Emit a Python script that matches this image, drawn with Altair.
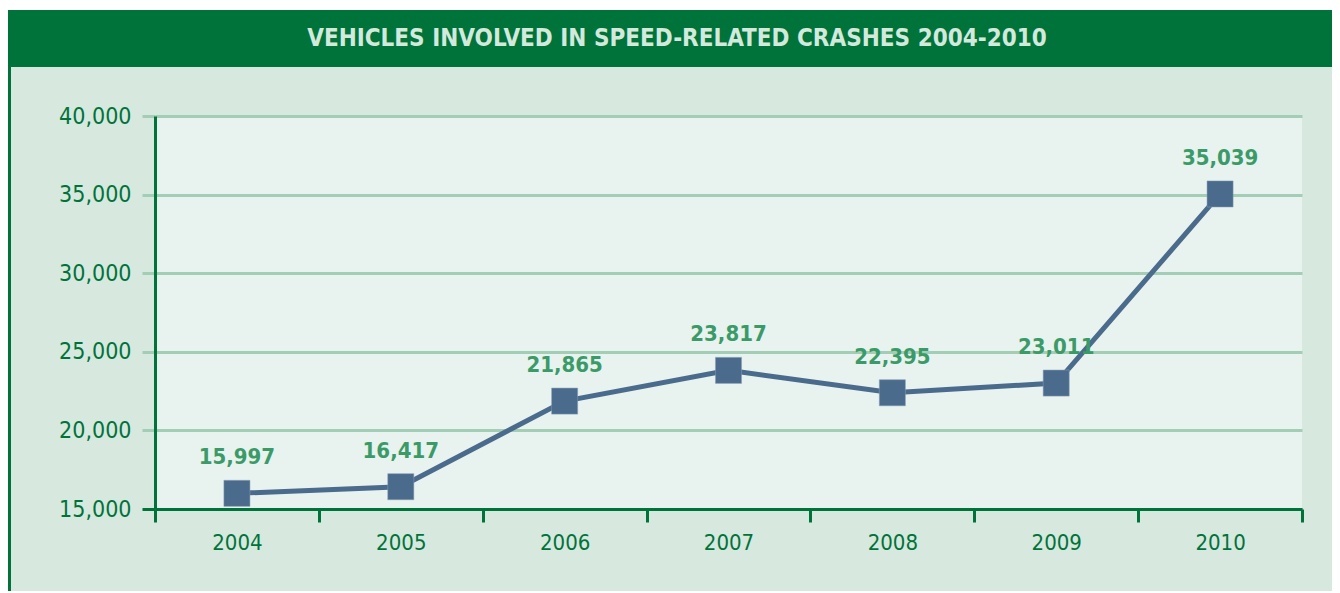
import altair as alt
import pandas as pd

years = ["2004", "2005", "2006", "2007", "2008", "2009", "2010"]
vehicles = [15997, 16417, 21865, 23817, 22395, 23011, 35039]
y_ticks = [15000, 20000, 25000, 30000, 35000, 40000]
title_text = "VEHICLES INVOLVED IN SPEED-RELATED CRASHES 2004-2010"

df = pd.DataFrame({"year": years, "vehicles": vehicles})

DARK = "#00733a"
LIGHT_BG = "#d7e8df"
PLOT_BG = "#e8f2ee"
GRID = "#a3cdb5"
LINE = "#4a6b8c"
LABEL = "#3a9a68"
FONT = "DejaVu Sans Condensed, Liberation Sans Narrow, sans-serif"

W, H = 1147, 393
PAD = {"left": 147, "top": 108, "right": 30, "bottom": 82}

x_enc = alt.X(
    "year:O",
    sort=years,
    scale=alt.Scale(paddingInner=0, paddingOuter=0),
    axis=alt.Axis(
        title=None, labelAngle=0, tickBand="extent", domainColor=DARK,
        domainWidth=3, tickColor=DARK, tickWidth=3, tickSize=13,
        labelColor=DARK, labelFont=FONT, labelFontSize=22, labelPadding=10,
        grid=False,
    ),
)
y_enc = alt.Y(
    "vehicles:Q",
    scale=alt.Scale(domain=[15000, 40000], nice=False, zero=False),
    axis=alt.Axis(
        title=None, values=y_ticks, format=",.0f", domainColor=DARK, domainWidth=3,
        tickColor={"condition": {"test": "datum.value === 15000", "value": DARK}, "value": GRID},
        tickWidth=3, tickSize=13, gridColor=GRID, gridWidth=3,
        labelColor=DARK, labelFont=FONT, labelFontSize=23, labelPadding=11,
    ),
)

base = alt.Chart(df).encode(x=x_enc, y=y_enc)

line = base.mark_line(color=LINE, strokeWidth=5)
points = base.mark_square(size=680, color=LINE, opacity=1, stroke="#8aa0b8", strokeWidth=0.5)
labels = base.mark_text(
    dy=-36, font=FONT, fontSize=22, fontWeight="bold", color=LABEL
).encode(text=alt.Text("vehicles:Q", format=",.0f"))

# header band and frame decorations
hdr_df = pd.DataFrame({"t": [title_text]})
header = alt.Chart(hdr_df).mark_rect(color=DARK, clip=False).encode(
    x=alt.value(-149), x2=alt.value(1185), y=alt.value(-106), y2=alt.value(-49)
)
left_border = alt.Chart(hdr_df).mark_rect(color=DARK, clip=False).encode(
    x=alt.value(-149), x2=alt.value(-144), y=alt.value(-106), y2=alt.value(480)
)
top_white = alt.Chart(hdr_df).mark_rect(color="white", clip=False).encode(
    x=alt.value(-150), x2=alt.value(1190), y=alt.value(-110), y2=alt.value(-106)
)
title = alt.Chart(hdr_df).mark_text(
    font=FONT, fontSize=24, fontWeight="bold", color="#d3e9dc", align="center", baseline="middle"
).encode(x=alt.value(522), y=alt.value(-77), text="t:N")

chart = alt.layer(header, left_border, top_white, title, line, points, labels).properties(
    width=W, height=H, padding=PAD, autosize=alt.AutoSizeParams(type="none"),
    background=LIGHT_BG,
).configure_view(fill=PLOT_BG, stroke=None)

chart.save("out.html", embed_options={"renderer": "svg", "actions": False})
